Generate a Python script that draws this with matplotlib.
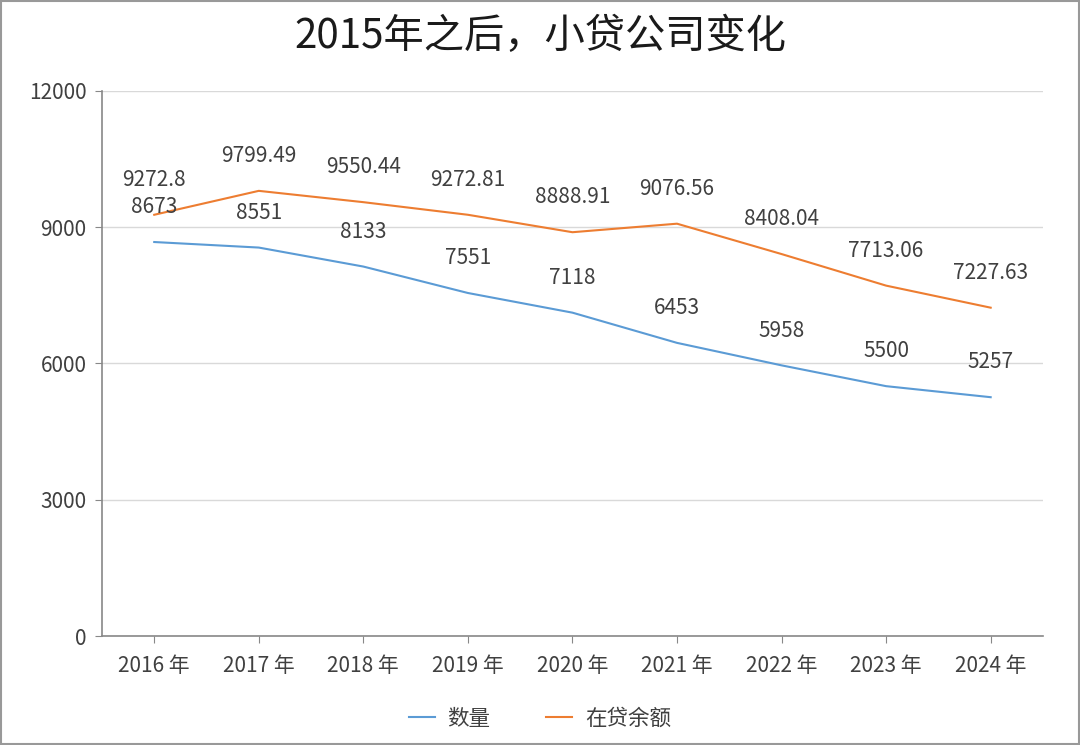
import matplotlib
matplotlib.use('Agg')
import matplotlib.pyplot as plt
from matplotlib.patches import Rectangle

plt.rcParams['font.family'] = ['Noto Sans CJK SC', 'DejaVu Sans']

years = ['2016 年', '2017 年', '2018 年', '2019 年', '2020 年', '2021 年', '2022 年', '2023 年', '2024 年']
count = [8673, 8551, 8133, 7551, 7118, 6453, 5958, 5500, 5257]
balance = [9272.8, 9799.49, 9550.44, 9272.81, 8888.91, 9076.56, 8408.04, 7713.06, 7227.63]
count_labels = ['8673', '8551', '8133', '7551', '7118', '6453', '5958', '5500', '5257']
balance_labels = ['9272.8', '9799.49', '9550.44', '9272.81', '8888.91', '9076.56', '8408.04', '7713.06', '7227.63']

blue = '#5b9bd5'
orange = '#ed7d31'
txt = '#404040'
fs = 15

fig = plt.figure(figsize=(10.8, 7.45), dpi=100)
ax = fig.add_axes([0.0944, 0.1463, 0.8713, 0.7317])

x = list(range(len(years)))
ax.plot(x, count, color=blue, lw=1.5, label='数量')
ax.plot(x, balance, color=orange, lw=1.5, label='在贷余额')

# data labels sit above each point
for i in x:
    ax.annotate(count_labels[i], (i, count[i]), xytext=(0, 25), textcoords='offset points',
                ha='center', va='center', fontsize=fs, color=txt)
    ax.annotate(balance_labels[i], (i, balance[i]), xytext=(0, 25), textcoords='offset points',
                ha='center', va='center', fontsize=fs, color=txt)

ax.set_xlim(-0.5, len(years) - 0.5)
ax.set_ylim(0, 12000)
ax.set_yticks([0, 3000, 6000, 9000, 12000])
ax.set_xticks(x)
ax.set_xticklabels(years)
ax.tick_params(axis='both', labelsize=fs, labelcolor=txt, color='#888888', length=5)
ax.tick_params(axis='x', pad=9)
ax.tick_params(axis='y', pad=6)
ax.grid(axis='y', color='#d9d9d9', lw=1)
ax.set_axisbelow(True)
for s in ['top', 'right']:
    ax.spines[s].set_visible(False)
for s in ['left', 'bottom']:
    ax.spines[s].set_color('#888888')
    ax.spines[s].set_linewidth(1.2)

fig.suptitle('2015年之后，小贷公司变化', x=0.5, y=0.978, fontsize=29, color='#1a1a1a')

fig.legend(loc='center', bbox_to_anchor=(0.5, 0.035), ncol=2, frameon=False,
           fontsize=15.5, labelcolor=txt, handlelength=1.2, handletextpad=0.6,
           columnspacing=2.6)

fig.patches.append(Rectangle((0.001, 0.001), 0.998, 0.998, transform=fig.transFigure,
                             fill=False, edgecolor='#999999', lw=1.5))

fig.savefig('out.png', dpi=100)
